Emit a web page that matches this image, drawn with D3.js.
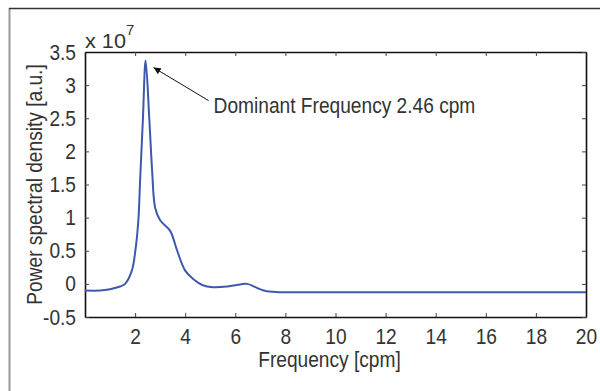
<!DOCTYPE html>
<meta charset="utf-8">
<script src="https://d3js.org/d3.v7.min.js"></script>
<style>
  body { margin: 0; background: #fff; }
  text { font-family: "Liberation Sans", Arial, sans-serif; fill: #333; }
</style>
<div id="my_dataviz"></div>
<script>

  // frequency [cpm] and power spectral density (x 1e7)
  const freq  = [0, 0.6, 1.0, 1.4, 1.6, 1.87, 2.01, 2.13, 2.2, 2.31, 2.42, 2.57, 2.68, 2.8, 3.0, 3.4, 3.68, 4.0, 4.33, 4.7, 5.1, 5.67, 6.0, 6.47, 6.8, 7.13, 7.5, 7.8, 10, 15, 20]
  const power = [-0.1, -0.1, -0.08, -0.04, 0.0, 0.2, 0.5, 0.96, 1.56, 2.47, 3.37, 2.47, 1.71, 1.15, 0.96, 0.8, 0.5, 0.2, 0.07, -0.02, -0.05, -0.04, -0.02, 0.0, -0.05, -0.1, -0.12, -0.125, -0.125, -0.125, -0.125]

  const xTicks = [2, 4, 6, 8, 10, 12, 14, 16, 18, 20]
  const yTicks = [-0.5, 0, 0.5, 1, 1.5, 2, 2.5, 3, 3.5]

  const peakFreq = 2.42
  const peakPower = 3.37

  const data = freq.map((f, i) => ({f: f, p: power[i]}))

  const W = 600, H = 391
  const margin = {top: 52, right: 14, bottom: 74, left: 85},
      width = W - margin.left - margin.right,
      height = H - margin.top - margin.bottom

  // the original uses a condensed face: squeeze text horizontally
  const squeeze = 0.87
  function narrow(sel) {
    sel.each(function() {
      const len = this.getComputedTextLength()
      d3.select(this).attr("textLength", len * squeeze).attr("lengthAdjust", "spacingAndGlyphs")
    })
  }

  const root = d3.select("#my_dataviz")
    .append("svg")
      .attr("width", W)
      .attr("height", H)

  // outer frame of the figure
  root.append("line").attr("x1", 9.5).attr("x2", 9.5).attr("y1", 8).attr("y2", H)
    .attr("stroke", "#999").attr("stroke-width", 2)
  root.append("line").attr("x1", 9).attr("x2", W).attr("y1", 8.5).attr("y2", 8.5)
    .attr("stroke", "#333").attr("stroke-width", 1.5)

  const svg = root.append("g")
      .attr("transform", `translate(${margin.left},${margin.top})`)

  const x = d3.scaleLinear().domain([0, 20]).range([0, width])
  const y = d3.scaleLinear().domain([-0.5, 3.5]).range([height, 0])

  const fmt = d => String(d)

  // axes (ticks pointing inward, box all round)
  const axBottom = svg.append("g")
    .attr("transform", `translate(0,${height})`)
    .call(d3.axisBottom(x).tickValues(xTicks).tickSizeInner(-4).tickSizeOuter(0).tickPadding(11).tickFormat(fmt))
  const axLeft = svg.append("g")
    .call(d3.axisLeft(y).tickValues(yTicks).tickSizeInner(-4).tickSizeOuter(0).tickPadding(9).tickFormat(fmt))
  const axTop = svg.append("g")
    .call(d3.axisTop(x).tickValues(xTicks).tickSizeInner(-4).tickSizeOuter(0).tickFormat(""))
  const axRight = svg.append("g")
    .attr("transform", `translate(${width},0)`)
    .call(d3.axisRight(y).tickValues(yTicks).tickSizeInner(-4).tickSizeOuter(0).tickFormat(""))

  for (const a of [axBottom, axLeft, axTop, axRight]) {
    a.select(".domain").attr("stroke", "#111").attr("stroke-width", 1.6)
    a.selectAll(".tick line").attr("stroke", "#444").attr("stroke-width", 1)
    a.selectAll(".tick text").style("font-size", "22px").attr("fill", "#333")
      .style("font-family", "'Liberation Sans', Arial, sans-serif")
  }
  axBottom.selectAll(".tick text").attr("dy", "0.72em")
  narrow(axBottom.selectAll(".tick text"))
  narrow(axLeft.selectAll(".tick text"))

  // exponent label
  const ex = svg.append("text")
    .attr("x", 0).attr("y", -4)
    .style("font-size", "21px")
  ex.append("tspan").text("x 10").attr("textLength", 41).attr("lengthAdjust", "spacingAndGlyphs")
  ex.append("tspan").text("7").attr("dy", -13).style("font-size", "15px")

  // curve
  svg.append("path")
    .datum(data)
    .attr("d", d3.line()
      .x(d => x(d.f))
      .y(d => y(d.p))
      .curve(d3.curveCatmullRom.alpha(0.5)))
    .attr("fill", "none")
    .attr("stroke", "#3d58ad")
    .attr("stroke-width", 2)

  // annotation
  root.append("defs").append("marker")
    .attr("id", "arr").attr("viewBox", "0 0 10 10")
    .attr("refX", 10).attr("refY", 5)
    .attr("markerWidth", 9).attr("markerHeight", 7)
    .attr("markerUnits", "userSpaceOnUse")
    .attr("orient", "auto")
    .append("path").attr("d", "M0,0L10,5L0,10z").attr("fill", "#111")

  const ax = x(peakFreq) + 8, ay = y(peakPower) + 7
  svg.append("line")
    .attr("x1", ax + 55).attr("y1", ay + 33)
    .attr("x2", ax).attr("y2", ay)
    .attr("stroke", "#111").attr("stroke-width", 1)
    .attr("marker-end", "url(#arr)")
  svg.append("text")
    .attr("x", ax + 60).attr("y", ay + 45)
    .style("font-size", "22px")
    .text("Dominant Frequency 2.46 cpm")
    .call(narrow)

  // axis titles
  svg.append("text")
    .attr("x", width / 2 - 6).attr("y", height + 50)
    .attr("text-anchor", "middle")
    .style("font-size", "22px")
    .text("Frequency [cpm]")
    .call(narrow)
  svg.append("text")
    .attr("transform", `translate(-43,${height / 2}) rotate(-90)`)
    .attr("text-anchor", "middle")
    .style("font-size", "22px")
    .text("Power spectral density [a.u.]")
    .call(narrow)

</script>
